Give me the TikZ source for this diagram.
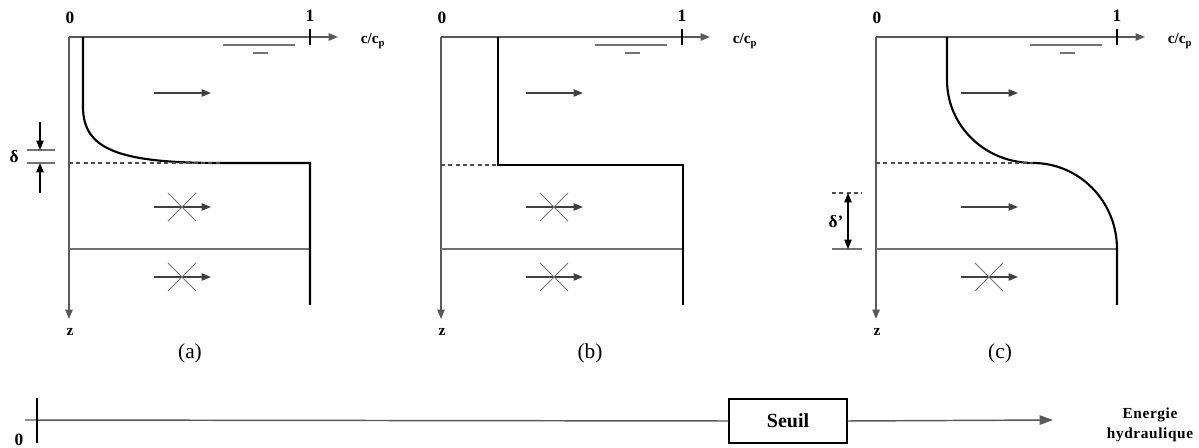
\documentclass[tikz,border=0pt]{standalone}
\usepackage{fontspec}
\setmainfont{Liberation Serif}
\usetikzlibrary{arrows.meta}
\begin{document}
\begin{tikzpicture}[x=0.75pt,y=-0.75pt,
  axisline/.style={draw=black!65,line width=1.1pt},
  profile/.style={draw=black,line width=1.6pt},
  layerline/.style={draw=black!55,line width=1.1pt},
  crossline/.style={draw=black!55,line width=0.7pt},
  dashline/.style={draw=black!70,line width=0.8pt,dash pattern=on 3pt off 2.5pt},
  tip/.style={-{Triangle[length=7pt,width=5.5pt]}},
  flow/.style={draw=black!75,line width=0.9pt,tip},
  lbl/.style={font=\bfseries\fontsize{13}{15}\selectfont,inner sep=0pt},
  smalllbl/.style={font=\bfseries\fontsize{11.5}{13}\selectfont,inner sep=0pt},
  caption/.style={font=\fontsize{16}{18}\selectfont,inner sep=0pt}]
\useasboundingbox (0,0) rectangle (1199,448);
% common parts of the three panels
\foreach \o/\n in {69/a,441/b,876/c}{
  \coordinate (O\n) at (\o,37);
  \coordinate (T\n) at (\o+241,37);
  \coordinate (X\n) at (\o+269,37);
  \coordinate (Z\n) at (\o,319);
  \draw[axisline,tip] (O\n) -- (X\n);
  \draw[axisline,tip] (O\n) -- (Z\n);
  \draw[black,line width=1.2pt] ([yshift=-6pt]T\n) -- ([yshift=6pt]T\n);
  \node[lbl] (zero\n) at (\o+1,18) {0};
  \node[lbl] (one\n) at (\o+241,16) {1};
  \node[smalllbl] (cc\n) at (\o+304,41) {c/c$_{\mathbf{p}}$};
  \node[smalllbl] (z\n) at (\o+1,332) {z};
  \coordinate (wa\n) at (\o+154,45); \coordinate (wb\n) at (\o+226,45);
  \coordinate (wc\n) at (\o+184,53); \coordinate (wd\n) at (\o+199,53);
  \draw[layerline] (wa\n) -- (wb\n);
  \draw[layerline] (wc\n) -- (wd\n);
  \coordinate (la\n) at (\o,249); \coordinate (lb\n) at (\o+241,249);
  \draw[layerline] (la\n) -- (lb\n);
  % top flow arrow
  \coordinate (fa\n) at (\o+85,93); \coordinate (fb\n) at (\o+142,93);
  \draw[flow] (fa\n) -- (fb\n);
  % bottom crossed arrow
  \coordinate (ga\n) at (\o+85,277); \coordinate (gb\n) at (\o+142,277);
  \draw[flow] (ga\n) -- (gb\n);
  \coordinate (gx\n) at (\o+113,277);
  \draw[crossline] ([shift={(-14,-14)}]gx\n) -- ([shift={(14,14)}]gx\n);
  \draw[crossline] ([shift={(-14,14)}]gx\n) -- ([shift={(14,-14)}]gx\n);
}
% middle crossed arrows (a), (b); plain arrow (c)
\foreach \o/\n in {69/a,441/b}{
  \coordinate (ma\n) at (\o+85,207); \coordinate (mb\n) at (\o+142,207);
  \draw[flow] (ma\n) -- (mb\n);
  \coordinate (mx\n) at (\o+113,207);
  \draw[crossline] ([shift={(-14,-14)}]mx\n) -- ([shift={(14,14)}]mx\n);
  \draw[crossline] ([shift={(-14,14)}]mx\n) -- ([shift={(14,-14)}]mx\n);
}
\coordinate (mac) at (961,207); \coordinate (mbc) at (1018,207);
\draw[flow] (mac) -- (mbc);

% ---- panel (a) profile
\coordinate (pa1) at (83,37); \coordinate (pa2) at (83,107);
\coordinate (pa3) at (220,163); \coordinate (pa4) at (310,163);
\coordinate (pa5) at (310,305);
\draw[profile] (pa1) -- (pa2) .. controls (83,150) and (120,163) .. (pa3) -- (pa4) -- (pa5);
\coordinate (da1) at (69,163);
\draw[dashline] (da1) -- (pa3);
% delta marks
\coordinate (d1l) at (27,150); \coordinate (d1r) at (55,150);
\coordinate (d2l) at (27,163); \coordinate (d2r) at (55,163);
\draw[layerline] (d1l) -- (d1r);
\draw[layerline] (d2l) -- (d2r);
\coordinate (dt) at (40,122); \coordinate (db) at (40,193);
\draw[black,line width=0.8pt,tip] (dt) -- (40,150);
\draw[black,line width=0.8pt,tip] (db) -- (40,163);
\node[lbl] (delta) at (14,157) {δ};
\node[caption] (capa) at (190,353) {(a)};

% ---- panel (b) profile
\coordinate (pb1) at (498,37); \coordinate (pb2) at (498,165);
\coordinate (pb3) at (683,165); \coordinate (pb4) at (683,305);
\draw[profile] (pb1) -- (pb2) -- (pb3) -- (pb4);
\coordinate (db1) at (441,165);
\draw[dashline] (db1) -- (pb2);
\node[caption] (capb) at (590,353) {(b)};

% ---- panel (c) profile
\coordinate (pc1) at (947,37); \coordinate (pc2) at (947,80);
\coordinate (pc3) at (1033,163); \coordinate (pc4) at (1117,249);
\coordinate (pc5) at (1117,305);
\draw[profile] (pc1) -- (pc2) .. controls (947,126) and (985,163) .. (pc3)
  .. controls (1079,163) and (1117,201) .. (pc4) -- (pc5);
\coordinate (dc1) at (876,163);
\draw[dashline] (dc1) -- (pc3);
% delta' marks
\coordinate (e1l) at (832,193); \coordinate (e1r) at (862,193);
\coordinate (e2l) at (832,249); \coordinate (e2r) at (862,249);
\draw[dashline] (e1l) -- (e1r);
\draw[layerline] (e2l) -- (e2r);
\coordinate (et) at (848,193); \coordinate (eb) at (848,249);
\draw[black,line width=0.8pt,{Triangle[length=7pt,width=5.5pt]}-{Triangle[length=7pt,width=5.5pt]}] (et) -- (eb);
\node[lbl] (deltap) at (836,222) {δ'};
\node[caption] (capc) at (1000,353) {(c)};

% ---- bottom energy axis
\coordinate (E0) at (25,420); \coordinate (E1) at (1053,420);
\node[draw=black,line width=1.1pt,minimum width=88.5pt,minimum height=33pt,inner sep=0pt,
  font=\bfseries\fontsize{15}{17}\selectfont] (seuil) at (788,421) {Seuil};
\draw[axisline] (E0) -- (seuil.west);
\draw[axisline,-{Triangle[length=10pt,width=7pt]}] (seuil.east) -- (E1);
\coordinate (t0a) at (37,398); \coordinate (t0b) at (37,443);
\draw[black,line width=1.1pt] (t0a) -- (t0b);
\node[lbl] (ezero) at (19,440) {0};
\node[font=\bfseries\fontsize{11.5}{15.5}\selectfont,align=center,inner sep=0pt] (energ) at (1150,425)
  {\addfontfeature{LetterSpace=4}Energie\\[-1pt]\addfontfeature{LetterSpace=4}hydraulique};
\end{tikzpicture}
\end{document}
